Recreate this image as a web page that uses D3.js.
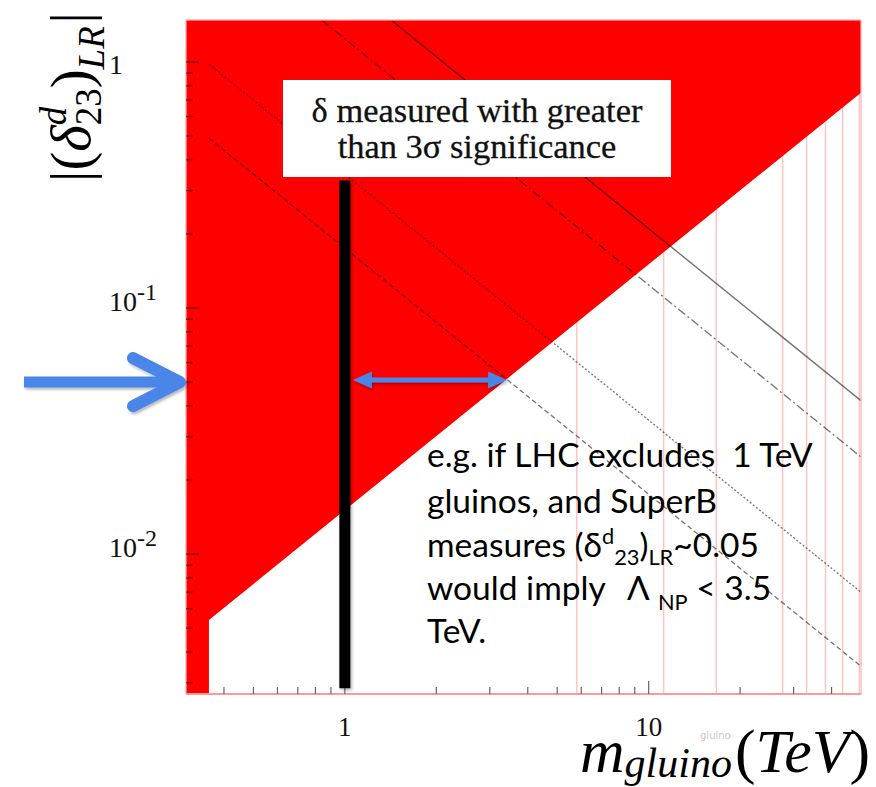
<!DOCTYPE html>
<html><head><meta charset="utf-8">
<script src="https://cdn.jsdelivr.net/npm/d3@7"></script>
<style>body{margin:0;background:#fff} svg{display:block} text{white-space:pre}</style>
</head><body>
<svg id="c" width="876" height="787"></svg>
<script>
// ---------------- data ----------------
const xDomain = [0.3, 50];            // m_gluino (TeV)
const yDomain = [0.0027, 1.48];       // |(delta^d_23)_LR|
const xTickLabels = ["1", "10"];
const xTickLabelValues = [1, 10];
const yTickLabelValues = [1, 0.1, 0.01];
const yTickLabelBase = ["1", "10", "10"];
const yTickLabelExp = ["", "-1", "-2"];
const gridLinesM = [5.8, 11.2, 16.7, 27.6, 33.1, 38.2, 43.5, 49.4];
const exclusionM = [0.3, 0.357, 0.357, 50, 50, 0.3];
const exclusionDelta = [0.0027, 0.0027, 0.0054, 0.75, 1.48, 1.48];
const contourStyles = ["solid", "dashdot", "dotted", "dashed"];
const contourM = [[1.42, 50], [0.838, 50], [0.357, 50], [0.357, 50]];
const contourDelta = [[1.48, 0.042], [1.48, 0.0248], [0.98, 0.0070], [0.49, 0.0035]];
const measuredM = 1;
const measuredDelta = [0.00285, 0.33];
const rangeArrowM = [1.063, 3.42];
const rangeArrowDelta = 0.051;
const markerDelta = 0.05;
const boxLines = ["δ measured with greater", "than 3σ significance"];

// ---------------- layout ----------------
const svg = d3.select("#c");
const plot = {left: 186, right: 861, top: 20, bottom: 694};
const x = d3.scaleLog().domain(xDomain).range([plot.left, plot.right]);
const y = d3.scaleLog().domain(yDomain).range([plot.bottom, plot.top]);

const defs = svg.append("defs");
defs.append("clipPath").attr("id", "clip").append("rect")
  .attr("x", plot.left).attr("y", plot.top)
  .attr("width", plot.right - plot.left).attr("height", plot.bottom - plot.top);
const sh = defs.append("filter").attr("id", "shadow").attr("filterUnits", "userSpaceOnUse")
  .attr("x", 0).attr("y", 0).attr("width", 876).attr("height", 787);
sh.append("feDropShadow").attr("dx", 1.5).attr("dy", 2).attr("stdDeviation", 1.5)
  .attr("flood-color", "#000").attr("flood-opacity", 0.3);

svg.append("rect").attr("width", 876).attr("height", 787).attr("fill", "#fff");

// width-fitting helper for a single string
function fitSize(text, family, target, style) {
  const p = svg.append("text").attr("font-family", family).attr("font-size", 40)
    .attr("font-style", style || "normal").text(text);
  const w = p.node().getComputedTextLength();
  p.remove();
  return 40 * target / w;
}

const g = svg.append("g").attr("clip-path", "url(#clip)");
// pink vertical grid lines
g.selectAll("line.grid").data(gridLinesM).join("line").attr("class", "grid")
  .attr("x1", d => x(d)).attr("x2", d => x(d))
  .attr("y1", plot.top).attr("y2", plot.bottom)
  .attr("stroke", "#ffc4c4").attr("stroke-width", 1.5);
// excluded region
const excl = exclusionM.map((m, i) => [m, exclusionDelta[i]]);
g.append("path")
  .attr("d", d3.line().x(d => x(d[0])).y(d => y(d[1]))(excl) + "Z")
  .attr("fill", "#ff0000");
// contour lines
const dashes = {solid: null, dashdot: "9,3,2,3", dotted: "2,2", dashed: "5,3"};
contourStyles.forEach((s, i) => {
  const pts = contourM[i].map((m, j) => [m, contourDelta[i][j]]);
  g.append("path")
    .attr("d", d3.line().x(d => x(d[0])).y(d => y(d[1]))(pts))
    .attr("fill", "none").attr("stroke", "#000").attr("stroke-opacity", 0.55)
    .attr("stroke-width", s === "solid" ? 1.4 : 1.3)
    .attr("stroke-dasharray", dashes[s]);
});

// frame
svg.append("rect").attr("x", plot.left).attr("y", plot.top)
  .attr("width", plot.right - plot.left).attr("height", plot.bottom - plot.top)
  .attr("fill", "none").attr("stroke", "#ffb0b0").attr("stroke-width", 1.2);
svg.append("line").attr("x1", plot.left).attr("x2", plot.right)
  .attr("y1", plot.bottom).attr("y2", plot.bottom)
  .attr("stroke", "#ff9a9a").attr("stroke-width", 2);

// ticks
const isMajor = v => Math.abs(Math.log10(v) - Math.round(Math.log10(v))) < 1e-6;
const xt = x.ticks().filter(v => v > xDomain[0] * 1.001 && v < xDomain[1] * 0.999);
svg.append("g").selectAll("line").data(xt).join("line")
  .attr("x1", d => x(d)).attr("x2", d => x(d))
  .attr("y1", plot.bottom).attr("y2", d => plot.bottom - (isMajor(d) ? 13 : 7))
  .attr("stroke", "#666").attr("stroke-width", 1.2);
const yt = y.ticks().filter(v => v > yDomain[0] * 1.001 && v < yDomain[1] * 0.999);
svg.append("g").selectAll("line").data(yt).join("line")
  .attr("y1", d => y(d)).attr("y2", d => y(d))
  .attr("x1", plot.left).attr("x2", d => plot.left + (isMajor(d) ? 13 : 7))
  .attr("stroke", "#000").attr("stroke-opacity", 0.6).attr("stroke-width", 1.2);

// tick labels
const serif = "Liberation Serif";
const xLabFs = fitSize("10", serif, 27);
svg.append("g").selectAll("text").data(xTickLabelValues).join("text")
  .attr("x", d => x(d)).attr("y", 736).attr("text-anchor", "middle")
  .attr("font-family", serif).attr("font-size", xLabFs).attr("fill", "#111")
  .text((d, i) => xTickLabels[i]);
const yLabFs = fitSize("10", serif, 28);
const yExpFs = fitSize("-1", serif, 20);
yTickLabelValues.forEach((v, i) => {
  const t = svg.append("text").attr("x", 109).attr("y", y(v) + (yTickLabelExp[i] ? 3 : 12))
    .attr("font-family", serif).attr("font-size", yLabFs).attr("fill", "#111");
  t.append("tspan").text(yTickLabelBase[i]);
  if (yTickLabelExp[i]) t.append("tspan").attr("font-size", yExpFs).attr("dy", -0.4 * yLabFs).text(yTickLabelExp[i]);
});

// measured value bar (black)
svg.append("rect")
  .attr("x", x(measuredM) - 5.5).attr("width", 11)
  .attr("y", y(measuredDelta[1])).attr("height", y(measuredDelta[0]) - y(measuredDelta[1]))
  .attr("fill", "#000").attr("filter", "url(#shadow)");

// double-headed arrow
(function () {
  const x1 = x(rangeArrowM[0]), x2 = x(rangeArrowM[1]), yc = y(rangeArrowDelta);
  const hl = 19, hh = 8.5, sw = 2.5;
  const p = [[x1, yc], [x1 + hl, yc - hh], [x1 + hl, yc - sw], [x2 - hl, yc - sw], [x2 - hl, yc - hh], [x2, yc],
             [x2 - hl, yc + hh], [x2 - hl, yc + sw], [x1 + hl, yc + sw], [x1 + hl, yc + hh]];
  svg.append("path").attr("d", "M" + p.map(q => q.join(",")).join("L") + "Z")
    .attr("fill", "#4a86e8").attr("filter", "url(#shadow)");
})();

// big blue marker arrow at delta = 0.05
(function () {
  const yc = y(markerDelta), tip = plot.left - 6;
  const ga = svg.append("g").attr("filter", "url(#shadow)");
  ga.append("line").attr("x1", 24).attr("x2", tip - 6).attr("y1", yc).attr("y2", yc)
    .attr("stroke", "#4a86e8").attr("stroke-width", 11);
  ga.append("path").attr("d", `M${tip - 47},${yc - 24}L${tip},${yc}L${tip - 47},${yc + 24}`)
    .attr("fill", "none").attr("stroke", "#4a86e8").attr("stroke-width", 12)
    .attr("stroke-linecap", "round").attr("stroke-linejoin", "round");
})();

// text box
svg.append("rect").attr("x", 283).attr("y", 80).attr("width", 388).attr("height", 97).attr("fill", "#fff");
(function () {
  const fs = fitSize(boxLines[0], serif, 331);
  boxLines.forEach((l, i) => {
    svg.append("text").attr("x", 477).attr("y", 122 + i * 36).attr("text-anchor", "middle")
      .attr("font-family", serif).attr("font-size", fs).attr("fill", "#111")
      .attr("stroke", "#111").attr("stroke-width", 0.3).text(l);
  });
})();

// annotation text
(function () {
  const fam = "Lato";
  const fs = fitSize("gluinos, and SuperB", fam, 290);
  const lx = 427, base = [467, 513, 557, 600, 643];
  const mk = i => svg.append("text").attr("x", lx).attr("y", base[i])
    .attr("font-family", fam).attr("font-size", fs).attr("fill", "#000");
  let t = mk(0);
  t.append("tspan").text("e.g. if LHC excludes");
  t.append("tspan").attr("dx", fs * 0.25).text(" 1 TeV");
  mk(1).text("gluinos, and SuperB");
  t = mk(2);
  t.append("tspan").text("measures (δ");
  t.append("tspan").attr("font-size", fs * 0.65).attr("dy", -0.38 * fs).text("d");
  t.append("tspan").attr("font-size", fs * 0.65).attr("dy", 0.62 * fs).text("23");
  t.append("tspan").attr("dy", -0.24 * fs).text(")");
  t.append("tspan").attr("font-size", fs * 0.65).attr("dy", 0.24 * fs).text("LR");
  t.append("tspan").attr("dy", -0.24 * fs).text("~0.05");
  t = mk(3);
  t.append("tspan").text("would imply");
  t.append("tspan").attr("dx", fs * 0.4).text(" Λ");
  t.append("tspan").attr("font-size", fs * 0.65).attr("dx", fs * 0.25).attr("dy", 0.3 * fs).text("NP");
  t.append("tspan").attr("dy", -0.3 * fs).text(" < 3.5");
  mk(4).text("TeV.");
})();

// rich label helper (pieces laid out along a baseline, supports stacked sup/sub)
function richLabel(parent, pieces, size, family) {
  let cx = 0, prevStart = 0;
  pieces.forEach(p => {
    const el = parent.append("text").attr("font-family", family)
      .attr("font-size", size * (p.scale || 1))
      .attr("font-style", p.italic ? "italic" : "normal")
      .attr("fill", "#000")
      .attr("y", (p.dy || 0) * size).text(p.t);
    const w = el.node().getComputedTextLength();
    const sx = (p.stack ? prevStart : cx) + (p.gap || 0) * size;
    el.attr("x", sx);
    if (p.stack) cx = Math.max(cx, sx + w);
    else { prevStart = sx; cx = sx + w; }
  });
  return cx;
}
function fittedLabel(transform, pieces, size, family, target) {
  const tmp = svg.append("g").attr("transform", transform);
  const w = richLabel(tmp, pieces, size, family);
  tmp.remove();
  const gg = svg.append("g").attr("transform", transform);
  richLabel(gg, pieces, size * target / w, family);
}

// faint underlying axis title
svg.append("text").attr("x", 700).attr("y", 739).attr("font-family", "DejaVu Sans")
  .attr("font-size", 10).attr("fill", "#c8c8c8").text("gluino");

// y axis title (rotated)
fittedLabel("translate(90,182) rotate(-90)", [
  {t: "|("},
  {t: "δ", italic: true},
  {t: "d", italic: true, scale: 0.65, dy: -0.42},
  {t: "23", scale: 0.65, dy: 0.2, stack: true},
  {t: ")"},
  {t: "LR", italic: true, scale: 0.65, dy: 0.25},
  {t: "|", gap: 0.05}
], 44, serif, 170);

// x axis title
fittedLabel("translate(580,772)", [
  {t: "m", italic: true},
  {t: "gluino", italic: true, scale: 0.68, dy: 0.08},
  {t: "(", gap: 0.05},
  {t: "TeV", italic: true},
  {t: ")"}
], 46, serif, 290);
</script>
</body></html>
